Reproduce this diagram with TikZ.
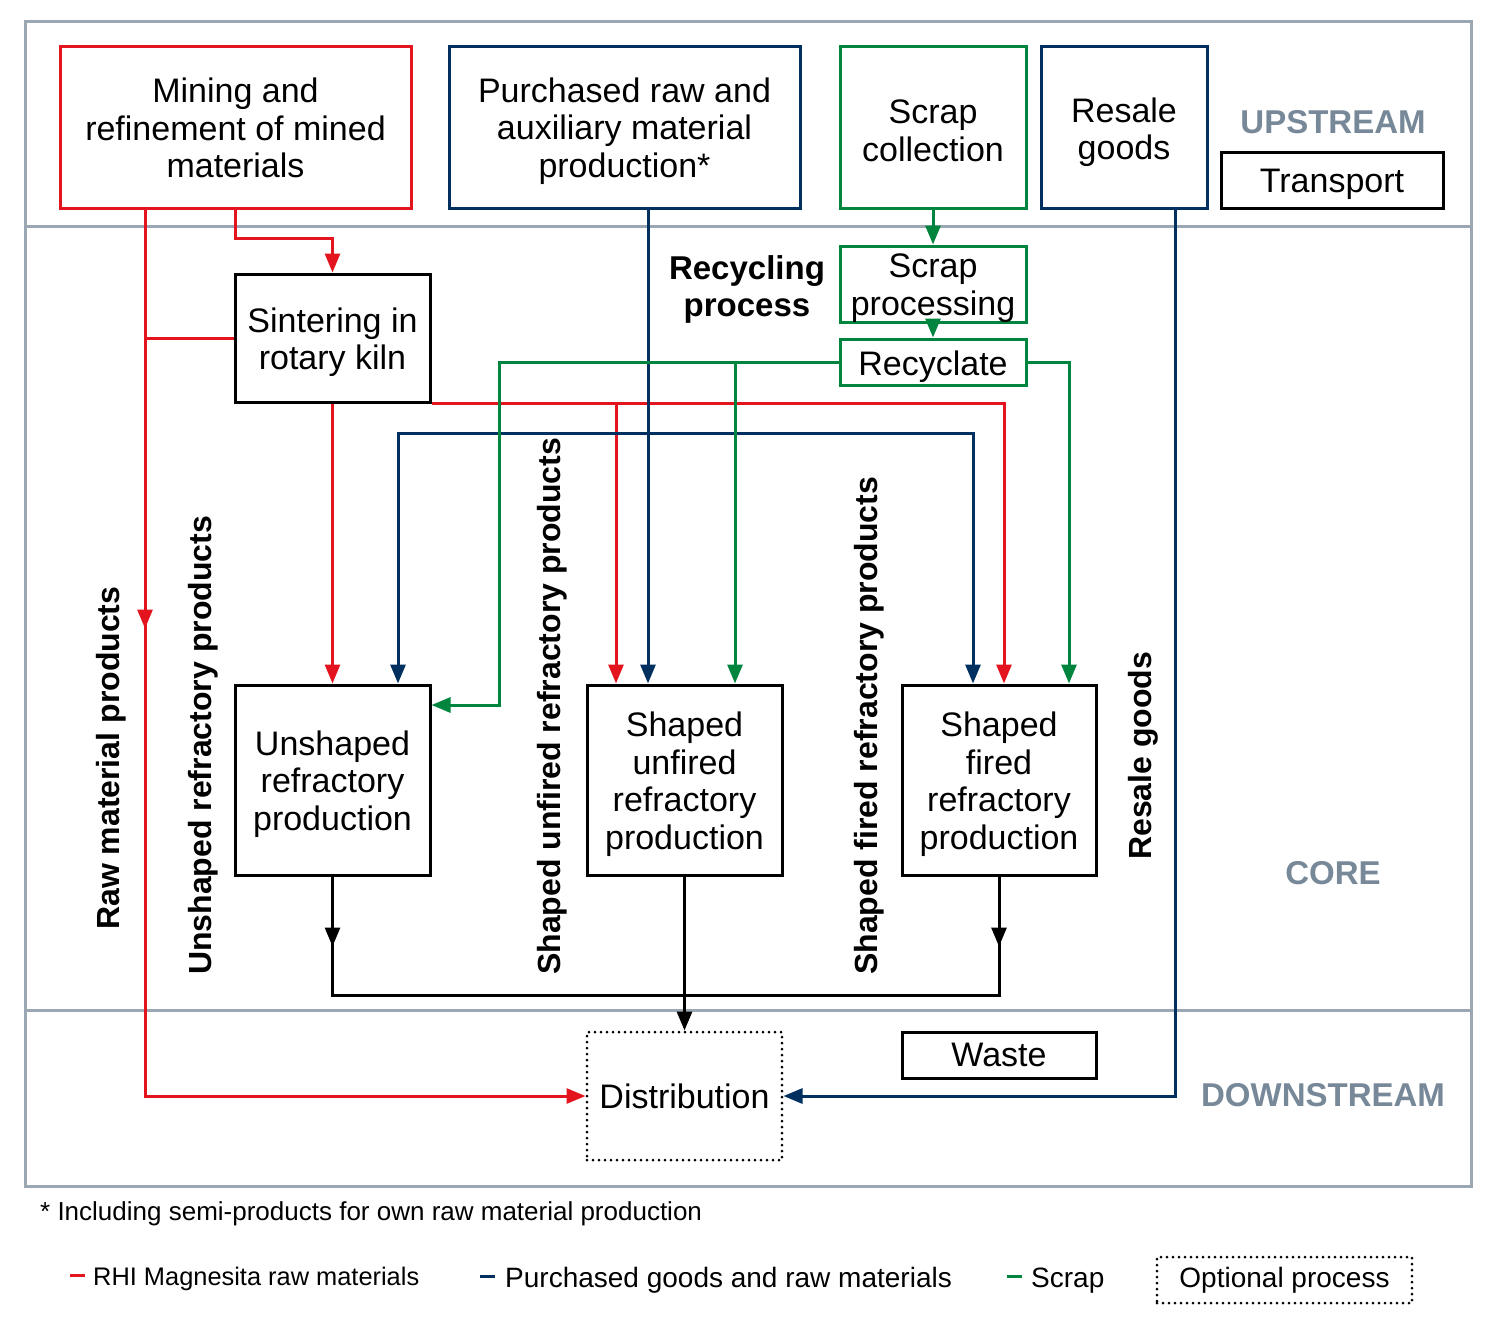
\documentclass[tikz,border=0pt]{standalone}
\usepackage{fontspec}
\setmainfont{Liberation Sans}
\usetikzlibrary{arrows.meta,decorations.markings}
\definecolor{rred}{HTML}{E3141D}
\definecolor{rnavy}{HTML}{00305F}
\definecolor{rgreen}{HTML}{00853F}
\definecolor{rgray}{HTML}{9BA7B3}
\definecolor{rlabel}{HTML}{778899}
\newcommand\mainfs{\fontsize{34}{37.5}\selectfont}
\newcommand\boldfs{\fontsize{33}{37}\selectfont\bfseries}
\newcommand\rotfs{\fontsize{32}{36}\selectfont\bfseries}
\begin{document}
\begin{tikzpicture}[x=1pt,y=-1pt,
  >={Triangle[length=19pt,width=15pt]},
  every node/.style={inner sep=0pt},
  box/.style={draw=#1, line width=3pt},
  txt/.style={font=\mainfs, align=center, text=black, yshift=-4pt},
  conn/.style={draw=#1, line width=3pt},
  dotbox/.style={draw=black, line width=3pt, dash pattern=on 0pt off 6pt, line cap=round, align=center, font=\mainfs},
  midarrow/.style={postaction={decorate}, decoration={markings, mark=at position #1 with {\arrow{>}}}},
  zone/.style={font=\boldfs, text=rlabel},
  rotlab/.style={font=\rotfs, rotate=90, anchor=west}]
\fill[white] (0,0) rectangle (1500,1326);
\useasboundingbox (0,0) rectangle (1500,1326);
% frame
\draw[rgray, line width=3pt] (25,21) rectangle (1471,1186);
\draw[rgray, line width=3pt] (25,226) -- (1471,226);
\draw[rgray, line width=3pt] (25,1010) -- (1471,1010);

% upstream boxes
\node[box=rred, minimum width=351pt, minimum height=162pt,
  label={[txt,yshift=3pt]center:{Mining and\\refinement of mined\\materials}}] (mining) at (235.5,127) {};
\node[box=rnavy, minimum width=351pt, minimum height=162pt,
  label={[txt]center:{Purchased raw and\\auxiliary material\\production*}}] (purch) at (624.5,127) {};
\node[box=rgreen, minimum width=186pt, minimum height=162pt,
  label={[txt]center:{Scrap\\collection}}] (scol) at (933,127) {};
\node[box=rnavy, minimum width=166pt, minimum height=162pt,
  label={[txt,yshift=-1pt]center:{Resale\\goods}}] (resale) at (1124,127) {};
\node[box=black, minimum width=222pt, minimum height=56pt,
  label={[txt]center:{Transport}}] (transp) at (1332,180) {};
\node[zone] (up) at (1333,122) {UPSTREAM};

% core
\node[box=black, minimum width=195pt, minimum height=128pt,
  label={[txt]center:{Sintering in\\rotary kiln}}] (sint) at (332.5,338) {};
\node[box=rgreen, minimum width=186pt, minimum height=76pt,
  label={[txt]center:{Scrap\\processing}}] (sproc) at (933,284) {};
\node[box=rgreen, minimum width=186pt, minimum height=46pt,
  label={[txt,yshift=-1pt]center:{Recyclate}}] (recy) at (933,362) {};
\node[font=\boldfs, align=center, yshift=-3pt] (recproc) at (747,286) {Recycling\\process};
\node[box=black, minimum width=195pt, minimum height=190pt,
  label={[txt]center:{Unshaped\\refractory\\production}}] (unsh) at (332.5,780) {};
\node[box=black, minimum width=195pt, minimum height=190pt,
  label={[txt]center:{Shaped\\unfired\\refractory\\production}}] (unfired) at (684.5,780) {};
\node[box=black, minimum width=194pt, minimum height=190pt,
  label={[txt]center:{Shaped\\fired\\refractory\\production}}] (fired) at (999,780) {};
\node[zone] (core) at (1333,873) {CORE};

\node[rotlab] (lraw) at (111,930) {Raw material products};
\node[rotlab] (lunsh) at (203,975) {Unshaped refractory products};
\node[rotlab] (lunf) at (552,975) {Shaped unfired refractory products};
\node[rotlab] (lfir) at (869,975) {Shaped fired refractory products};
\node[rotlab] (lres) at (1143,860) {Resale goods};

% downstream
\node[dotbox, minimum width=195pt, minimum height=128pt] (distr) at (684.5,1096) {Distribution};
\node[box=black, minimum width=194pt, minimum height=46pt,
  label={[txt,yshift=4pt]center:{Waste}}] (waste) at (999,1055) {};
\node[zone] (down) at (1323,1095) {DOWNSTREAM};

% column coordinates
\coordinate (cR1) at (145,0);
\coordinate (cR4) at (616,0);
\coordinate (cR5) at (1004,0);
\coordinate (cN1) at (648,0);
\coordinate (cN2) at (398,0);
\coordinate (cN3) at (973,0);
\coordinate (cNh) at (0,433);
\coordinate (cN4) at (1175,0);
\coordinate (cG1) at (499,0);
\coordinate (cG2) at (735,0);
\coordinate (cG3) at (1069,0);
\coordinate (cGy) at (0,705);
\coordinate (cBh) at (0,995);

% red connectors
\draw[conn=rred, ->, midarrow=419pt] (mining.south -| cR1) -- (distr.west -| cR1) -- (distr.west);
\draw[conn=rred, ->] (mining.south) -- ++(0,29) -| (sint.north);
\draw[conn=rred] (sint.west) -- (sint.west -| cR1);
\draw[conn=rred, ->] (sint.south) -- (unsh.north);
\draw[conn=rred, ->] (sint.south east) -| (fired.north -| cR5);
\draw[conn=rred, ->] (sint.south east -| cR4) -- (unfired.north -| cR4);

% navy connectors
\draw[conn=rnavy, ->] (purch.south -| cN1) -- (unfired.north -| cN1);
\draw[conn=rnavy, <->] (unsh.north -| cN2) -- (cN2 |- cNh) -| (fired.north -| cN3);
\draw[conn=rnavy, ->] (resale.south -| cN4) |- (distr.east);

% green connectors
\draw[conn=rgreen, ->] (scol.south) -- (sproc.north);
\draw[conn=rgreen, ->] (sproc.south) -- (recy.north);
\draw[conn=rgreen, ->] (recy.west) -| (cG1 |- cGy) -- (unsh.east |- cGy);
\draw[conn=rgreen, ->] (recy.west -| cG2) -- (unfired.north -| cG2);
\draw[conn=rgreen, ->] (recy.east) -| (fired.north -| cG3);

% black connectors
\draw[conn=black, midarrow=70pt] (unsh.south) |- (unfired.south |- cBh);
\draw[conn=black, midarrow=70pt] (fired.south) |- (unfired.south |- cBh);
\draw[conn=black, ->] (unfired.south) -- (distr.north);

% footnote and legend
\node[anchor=base west, font=\fontsize{26}{30}\selectfont] (foot) at (40,1220) {* Including semi-products for own raw material production};
\node[anchor=base west, font=\fontsize{25.4}{30}\selectfont] (lgR) at (70,1285) {\textcolor{rred}{\rule[8pt]{15pt}{3pt}}\hspace{8pt}RHI Magnesita raw materials};
\node[anchor=base west, font=\fontsize{28}{32}\selectfont] (lgN) at (480,1287) {\textcolor{rnavy}{\rule[9pt]{15pt}{3pt}}\hspace{10pt}Purchased goods and raw materials};
\node[anchor=base west, font=\fontsize{28}{32}\selectfont] (lgG) at (1007,1287) {\textcolor{rgreen}{\rule[9pt]{15pt}{3pt}}\hspace{9pt}Scrap};
\node[dotbox, font=\fontsize{28}{32}\selectfont, minimum width=255pt, minimum height=46pt] (lgO) at (1284.5,1280) {Optional process};
\end{tikzpicture}
\end{document}
